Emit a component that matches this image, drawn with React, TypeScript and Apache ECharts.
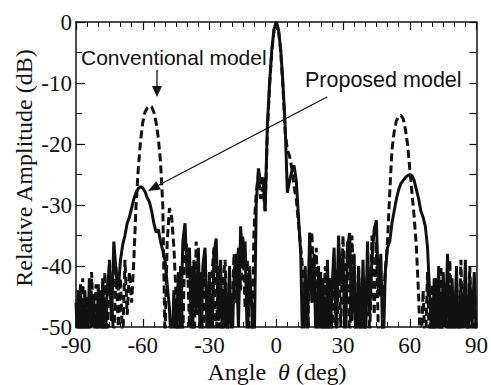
import React, { useEffect, useRef } from "react";
import * as echarts from "echarts";

// Sampling grid of the measured pattern (deg)
const ANGLE_MIN = -90;
const ANGLE_MAX = 90;
const angles: number[] = [];
for (let a = ANGLE_MIN; a <= ANGLE_MAX; a += 1) angles.push(a);

const xTicks = [-90, -60, -30, 0, 30, 60, 90];
const yTicks = [-50, -40, -30, -20, -10, 0];

// Proposed model (solid), dB, from -90 to 90 deg in 1 deg steps
const proposed: number[] = [
  -46, -55, -43, -53, -44, -57, -42, -50, -45, -56, // -90..-81
  -43, -54, -42, -55, -44, -40, -49, -36, -41, -44, // -80..-71
  -39, -36.5, -35, -33, -32, -30.5, -29, -28, -27.3, -27, // -70..-61
  -27.2, -27.8, -28.8, -29.5, -31, -33, -34.5, -34, -36, -37.5, // -60..-51
  -39, -43, -47, -55, -44, -53, -41, -52, -36, -33, // -50..-41
  -42, -37, -54, -39, -48, -37, -56, -40, -37, -53, // -40..-31
  -41, -57, -38, -35.5, -49, -39, -55, -42, -52, -40, // -30..-21
  -56, -42, -38, -50, -33.5, -40, -36, -53, -40, -47, // -20..-11
  -56, -30, -24, -26.5, -25.5, -31, -17, -10, -4.5, -1.2, // -10..-1
  0, // 0
  -1.2, -4.5, -10, -17, -28, -26, -24.5, -23.5, -26, -32, // 1..10
  -38, -56, -40, -52, -34.5, -46, -38, -56, -40, -53, // 11..20
  -42, -57, -39, -53, -44, -37, -51, -35, -43, -38, // 21..30
  -55, -37, -34.6, -49, -38, -56, -40, -52, -39, -55, // 31..40
  -36, -48, -39, -34, -32.5, -45, -38, -55, -41, -37, // 41..50
  -36, -33, -31, -29, -27.5, -26.5, -26, -25.5, -25.2, -25, // 51..60
  -25.2, -26, -27.5, -29, -31, -32, -33.5, -37, -45, -53, // 61..70
  -42, -54, -40, -56, -41, -50, -38, -55, -42, -52, // 71..80
  -40, -57, -43, -52, -39, -55, -42, -50, -41, -54, // 81..90
];

// Conventional model (dashed), dB
const conventional: number[] = [
  -54, -44, -57, -42, -52, -45, -56, -41, -51, -43, // -90..-81
  -56, -44, -53, -41, -55, -39, -46, -52, -40, -50, // -80..-71
  -42, -53, -39, -48, -41, -46, -39, -30, -24, -19.5, // -70..-61
  -16.5, -14.8, -14.1, -13.8, -13.9, -14.8, -16.5, -19, -23, -30, // -60..-51
  -52, -36, -30.5, -32, -37, -45, -56, -40, -52, -35, // -50..-41
  -38, -50, -40, -56, -36, -48, -41, -54, -38, -49, // -40..-31
  -55, -42, -37, -53, -40, -57, -43, -39, -52, -43, // -30..-21
  -50, -38, -46, -37, -44, -35, -47, -39, -52, -56, // -20..-11
  -34, -28, -25, -29, -27, -31, -18, -10.5, -4.8, -1.3, // -10..-1
  -0.1, // 0
  -1.3, -4.8, -10.5, -18, -21, -22, -24, -27, -29, -33, // 1..10
  -37, -41, -45, -55, -37, -34.4, -46, -37, -55, -41, // 11..20
  -52, -40, -56, -42, -53, -40, -57, -38, -50, -35, // 21..30
  -48, -36, -54, -35, -45, -53, -40, -57, -42, -51, // 31..40
  -40, -52, -35, -48, -36, -53, -56, -47, -41, -36, // 41..50
  -28, -21, -18, -16.2, -15.5, -15.3, -15.8, -17.5, -20, -24, // 51..60
  -28, -32, -37, -45, -56, -44, -54, -41, -56, -43, // 61..70
  -53, -42, -57, -40, -52, -43, -56, -39, -50, -54, // 71..80
  -42, -53, -39, -55, -43, -51, -40, -56, -44, -52, // 81..90
];

const SERIF = "'Liberation Serif', 'Times New Roman', serif";
const SANS = "'Liberation Sans', Arial, Helvetica, sans-serif";
const INK = "#111";

function buildOption() {
  const axisLine = { show: true, onZero: false, lineStyle: { color: INK, width: 1.5 } };
  const xBase = {
    type: "value" as const,
    min: xTicks[0],
    max: xTicks[xTicks.length - 1],
    interval: 30,
    axisLine,
    axisTick: { show: true, inside: true, length: 8, lineStyle: { color: INK, width: 1.2 } },
    minorTick: { show: true, splitNumber: 6, length: 5, lineStyle: { color: INK, width: 1 } },
    splitLine: { show: false },
  };
  const yBase = {
    type: "value" as const,
    min: yTicks[0],
    max: yTicks[yTicks.length - 1],
    interval: 10,
    axisLine,
    axisTick: { show: true, inside: true, length: 9, lineStyle: { color: INK, width: 1.2 } },
    minorTick: { show: true, splitNumber: 2, length: 6, lineStyle: { color: INK, width: 1 } },
    splitLine: { show: false },
  };
  return {
    animation: false,
    backgroundColor: "#ffffff",
    grid: { left: 76, right: 13, top: 22, bottom: 58, containLabel: false },
    xAxis: [
      {
        ...xBase,
        position: "bottom",
        axisLabel: { color: INK, fontFamily: SERIF, fontSize: 23, margin: 7 },
      },
      {
        ...xBase,
        position: "top",
        axisLabel: { show: false },
      },
    ],
    yAxis: [
      {
        ...yBase,
        position: "left",
        axisLabel: { color: INK, fontFamily: SERIF, fontSize: 23, margin: 4 },
      },
      {
        ...yBase,
        position: "right",
        axisTick: { show: true, inside: true, length: 7, lineStyle: { color: INK, width: 1.2 } },
        minorTick: { show: true, splitNumber: 2, length: 7, lineStyle: { color: INK, width: 1.2 } },
        axisLabel: { show: false },
      },
    ],
    series: [
      {
        type: "line",
        name: "Conventional model",
        xAxisIndex: 0,
        yAxisIndex: 0,
        data: angles.map((a, i) => [a, conventional[i]]),
        showSymbol: false,
        symbol: "none",
        clip: true,
        lineStyle: { color: INK, width: 3, type: [8, 4] },
      },
      {
        type: "line",
        name: "Proposed model",
        xAxisIndex: 0,
        yAxisIndex: 0,
        data: angles.map((a, i) => [a, proposed[i]]),
        showSymbol: false,
        symbol: "none",
        clip: true,
        lineStyle: { color: INK, width: 3 },
      },
    ],
    graphic: [
      {
        type: "text",
        x: 81,
        y: 57,
        style: {
          text: "Conventional model",
          fill: INK,
          font: `21px ${SANS}`,
          align: "left",
          verticalAlign: "middle",
        },
      },
      {
        type: "line",
        shape: { x1: 157, y1: 70, x2: 157, y2: 88 },
        style: { stroke: INK, lineWidth: 1.3 },
      },
      {
        type: "polygon",
        shape: { points: [[152, 86], [162, 86], [157, 97]] },
        style: { fill: INK },
      },
      {
        type: "text",
        x: 305,
        y: 80,
        style: {
          text: "Proposed model",
          fill: INK,
          font: `21.5px ${SANS}`,
          align: "left",
          verticalAlign: "middle",
        },
      },
      {
        type: "line",
        shape: { x1: 327, y1: 97, x2: 158, y2: 185.5 },
        style: { stroke: INK, lineWidth: 1.3 },
      },
      {
        type: "polygon",
        shape: { points: [[148, 191], [156.3, 181.2], [160.9, 189.6]] },
        style: { fill: INK },
      },
      {
        type: "text",
        x: 24,
        y: 168,
        rotation: Math.PI / 2,
        style: {
          text: "Relative Amplitude (dB)",
          fill: INK,
          font: `24px ${SERIF}`,
          align: "center",
          verticalAlign: "middle",
        },
      },
      {
        type: "text",
        x: 277,
        y: 372,
        style: {
          text: "Angle  {i|θ} (deg)",
          fill: INK,
          font: `24px ${SERIF}`,
          align: "center",
          verticalAlign: "middle",
          rich: {
            i: { fontStyle: "italic", fontFamily: SERIF, fontSize: 24, fill: INK },
          },
        },
      },
    ],
  };
}

export default function App() {
  const ref = useRef<HTMLDivElement>(null);
  useEffect(() => {
    document.body.style.margin = "0";
    const chart = echarts.init(ref.current as HTMLDivElement, null, { renderer: "svg" });
    chart.setOption(buildOption() as any);
    return () => chart.dispose();
  }, []);
  return (
    <div
      ref={ref}
      style={{ position: "fixed", left: 0, top: 0, width: 491, height: 385, background: "#fff" }}
    />
  );
}
